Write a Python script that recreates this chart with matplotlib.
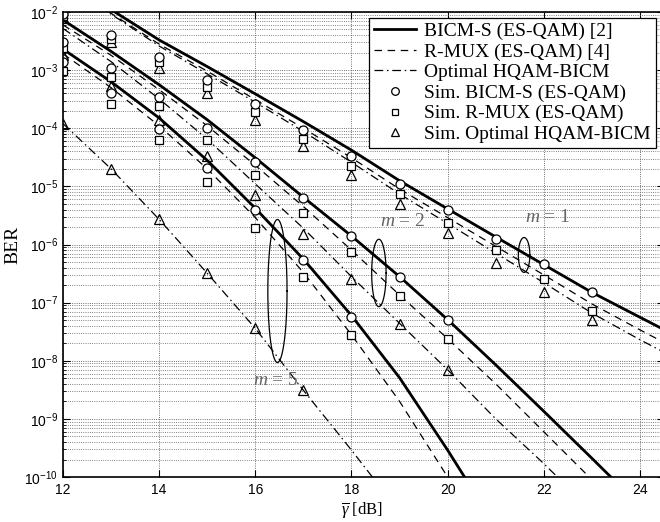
import numpy as np
import matplotlib.pyplot as plt
from matplotlib.lines import Line2D

plt.rcParams['font.family'] = ['Liberation Sans', 'DejaVu Sans']
plt.rcParams['mathtext.fontset'] = 'custom'
plt.rcParams['mathtext.rm'] = 'Liberation Sans'
plt.rcParams['mathtext.it'] = 'Liberation Serif:italic'

# analytical curves, evaluated at integer SNR (dB)
snr = [12, 13, 14, 15, 16, 17, 18, 19, 20, 21, 22, 23, 24, 25]

bicm_m1 = [3.2e-2, 1.1e-2, 3.3e-3, 1.15e-3, 3.9e-4, 1.3e-4, 4.2e-5, 1.25e-5, 4.1e-6, 1.35e-6, 4.5e-7, 1.5e-7, 5.6e-8, 2.1e-8]
rmux_m1 = [2.8e-2, 9.5e-3, 2.8e-3, 9.6e-4, 3.1e-4, 1.0e-4, 3.1e-5, 9.0e-6, 2.9e-6, 9.3e-7, 3.0e-7, 9.5e-8, 3.4e-8, 1.25e-8]
opt_m1 = [2.6e-2, 9.2e-3, 2.6e-3, 8.6e-4, 2.8e-4, 8.8e-5, 2.6e-5, 7.4e-6, 2.3e-6, 7.1e-7, 2.2e-7, 6.6e-8, 2.3e-8, 8.5e-9]

bicm_m2 = [7.3e-3, 2.1e-3, 5.6e-4, 1.4e-4, 3.1e-5, 6.5e-6, 1.4e-6, 2.8e-7, 5.1e-8, 8.5e-9, 1.35e-9, 2.1e-10, 3.2e-11, 5e-12]
rmux_m2 = [6.0e-3, 1.8e-3, 4.6e-4, 1.1e-4, 2.3e-5, 4.5e-6, 8.0e-7, 1.35e-7, 2.4e-8, 4.0e-9, 6.0e-10, 9.0e-11, 1.3e-11, 2e-12]
opt_m2 = [5.2e-3, 1.4e-3, 3.2e-4, 6.5e-5, 1.1e-5, 1.9e-6, 2.8e-7, 4.4e-8, 7.0e-9, 1.0e-9, 1.7e-10, 2.6e-11, 4e-12, 6e-13]

snr_m5 = [12, 13, 14, 15, 16, 17, 18, 19, 20, 21]
bicm_m5 = [2.3e-3, 6.3e-4, 1.5e-4, 2.8e-5, 4.2e-6, 5.6e-7, 6.0e-8, 5.1e-9, 2.9e-10, 1.4e-11]
rmux_m5 = [1.9e-3, 5.0e-4, 1.1e-4, 2.0e-5, 2.9e-6, 3.3e-7, 2.8e-8, 2.0e-9, 1.0e-10, 4e-12]
opt_m5 = [1.2e-4, 2.0e-5, 2.7e-6, 3.2e-7, 3.6e-8, 3.1e-9, 2.9e-10, 2.5e-11, 2e-12, 1e-13]

# simulation points
sim_x_m1 = [12, 13, 14, 15, 16, 17, 18, 19, 20, 21, 22, 23]
sim_bicm_m1 = [9.3e-3, 4.1e-3, 1.7e-3, 6.8e-4, 2.6e-4, 9.5e-5, 3.3e-5, 1.1e-5, 3.9e-6, 1.26e-6, 4.6e-7, 1.5e-7]
sim_rmux_m1 = [8.5e-3, 3.5e-3, 1.4e-3, 5.2e-4, 1.9e-4, 6.5e-5, 2.2e-5, 7.3e-6, 2.3e-6, 7.9e-7, 2.5e-7, 7.3e-8]
sim_opt_m1 = [7.9e-3, 3.1e-3, 1.1e-3, 4.1e-4, 1.4e-4, 4.9e-5, 1.55e-5, 5.0e-6, 1.55e-6, 4.8e-7, 1.55e-7, 5.1e-8]

sim_x_m2 = [12, 13, 14, 15, 16, 17, 18, 19, 20]
sim_bicm_m2 = [3.0e-3, 1.08e-3, 3.5e-4, 1.0e-4, 2.6e-5, 6.3e-6, 1.4e-6, 2.75e-7, 5.1e-8]
sim_rmux_m2 = [2.36e-3, 7.6e-4, 2.4e-4, 6.3e-5, 1.6e-5, 3.5e-6, 7.3e-7, 1.3e-7, 2.4e-8]
sim_opt_m2 = [1.8e-3, 5.3e-4, 1.4e-4, 3.3e-5, 7.0e-6, 1.5e-6, 2.6e-7, 4.3e-8, 7.0e-9]

sim_x_m5 = [12, 13, 14, 15, 16, 17, 18]
sim_bicm_m5 = [1.37e-3, 4.1e-4, 9.7e-5, 2.1e-5, 3.9e-6, 5.4e-7, 5.7e-8]
sim_rmux_m5 = [9.6e-4, 2.6e-4, 6.3e-5, 1.2e-5, 1.95e-6, 2.75e-7, 2.75e-8]
sim_x_opt_m5 = [12, 13, 14, 15, 16, 17]
sim_opt_m5 = [1.2e-4, 2.0e-5, 2.7e-6, 3.2e-7, 3.6e-8, 3.1e-9]

fig = plt.figure(figsize=(6.6, 5.22), dpi=100)
ax = fig.add_axes([63/660, 45/522, 601/660, 465/522])
ax.set_yscale('log')

solid = dict(color='k', lw=2.0, ls='-')
dashed = dict(color='k', lw=0.9, ls=(0, (6, 4.5)))
dashdot = dict(color='k', lw=0.9, ls=(0, (7, 3, 1.2, 3)))

ax.plot(snr, bicm_m1, **solid)
ax.plot(snr, rmux_m1, **dashed)
ax.plot(snr, opt_m1, **dashdot)
ax.plot(snr, bicm_m2, **solid)
ax.plot(snr, rmux_m2, **dashed)
ax.plot(snr, opt_m2, **dashdot)
ax.plot(snr_m5, bicm_m5, **solid)
ax.plot(snr_m5, rmux_m5, **dashed)
ax.plot(snr_m5, opt_m5, **dashdot)

circ = dict(ls='none', marker='o', ms=6.5, mfc='white', mec='k', mew=0.9)
sq = dict(ls='none', marker='s', ms=5.2, mfc='white', mec='k', mew=0.9)
tri = dict(ls='none', marker='^', ms=7, mfc='none', mec='k', mew=0.9)

for xs, b, r, o in [(sim_x_m1, sim_bicm_m1, sim_rmux_m1, sim_opt_m1),
                    (sim_x_m2, sim_bicm_m2, sim_rmux_m2, sim_opt_m2)]:
    ax.plot(xs, o, **tri)
    ax.plot(xs, r, **sq)
    ax.plot(xs, b, **circ)
ax.plot(sim_x_opt_m5, sim_opt_m5, **tri)
ax.plot(sim_x_m5, sim_rmux_m5, **sq)
ax.plot(sim_x_m5, sim_bicm_m5, **circ)

# ellipses around curve groups (centre x, centre log10 y, half width dB, half height decades)
t = np.linspace(0, 2*np.pi, 200)
for cx, cy, a, b in [(21.59, -6.18, 0.12, 0.30), (18.57, -6.49, 0.15, 0.58), (16.46, -6.80, 0.20, 1.23)]:
    ax.plot(cx + a*np.cos(t), 10**(cy + b*np.sin(t)), color='k', lw=0.9)

lab = dict(fontsize=14, color='0.4', family='Liberation Serif', ha='center', va='center')
ax.text(22.08, 10**-5.54, r'$m$ = 1', **lab)
ax.text(19.07, 10**-5.61, r'$m$ = 2', **lab)
ax.text(16.43, 10**-8.34, r'$m$ = 5', **lab)

ax.set_xlim(12, 24.5)
ax.set_ylim(1e-10, 1e-2)
ax.set_xticks([12, 14, 16, 18, 20, 22, 24])
ax.set_yticks([10.0**k for k in range(-10, -1)])
ax.tick_params(which='both', direction='in', top=True, right=True, labelsize=10)
ax.tick_params(which='major', length=5)
ax.tick_params(which='minor', length=2.5)
ax.tick_params(axis='x', pad=4)
ax.grid(True, which='major', ls=':', color='0.25', lw=0.6)
ax.grid(True, which='minor', axis='y', ls=':', color='0.35', lw=0.6)
for s in ax.spines.values():
    s.set_linewidth(1.2)

ax.set_ylabel('BER', family='Liberation Serif', fontsize=14, labelpad=2)
ax.set_xlabel(r'$\overline{\gamma}$ [dB]', family='Liberation Serif', fontsize=12, va='top')
ax.xaxis.set_label_coords(0.497, -0.05)

handles = [Line2D([], [], **solid), Line2D([], [], **dashed), Line2D([], [], **dashdot),
           Line2D([], [], **dict(circ, ms=5.5)), Line2D([], [], **dict(sq, ms=4.5)),
           Line2D([], [], **dict(tri, ms=6))]
labels = ['BICM-S (ES-QAM) [2]', 'R-MUX (ES-QAM) [4]', 'Optimal HQAM-BICM',
          'Sim. BICM-S (ES-QAM)', 'Sim. R-MUX (ES-QAM)', 'Sim. Optimal HQAM-BICM']
leg = ax.legend(handles, labels, loc='upper right', bbox_to_anchor=(0.986, 0.988),
                borderaxespad=0, fancybox=False, framealpha=1, edgecolor='k',
                prop={'family': 'Liberation Serif', 'size': 14}, handlelength=2.2,
                handletextpad=0.4, labelspacing=0.15, borderpad=0.25)
leg.get_frame().set_linewidth(0.9)

fig.savefig('out.png', dpi=100)
